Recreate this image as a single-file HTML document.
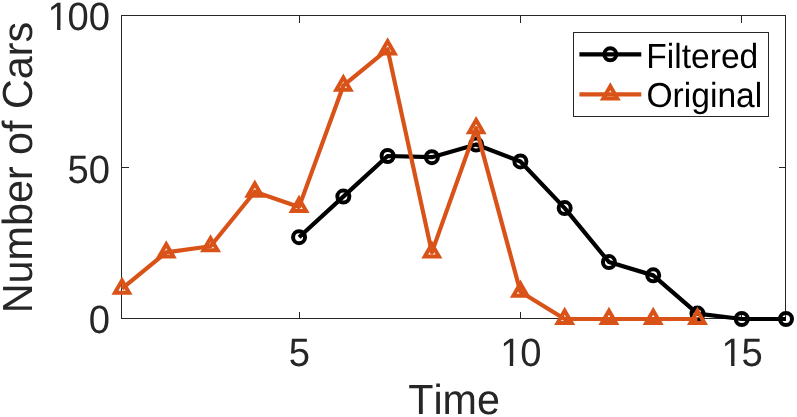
<!DOCTYPE html><html><head><meta charset="utf-8"><title>Plot</title><style>html,body{margin:0;padding:0;background:#fff}body{width:797px;height:417px;overflow:hidden}text{font-kerning:none;text-rendering:geometricPrecision}</style></head><body><svg width="797" height="417" viewBox="0 0 797 417" style="display:block">
<rect width="797" height="417" fill="#fff"/>
<g stroke="#262626" stroke-width="1" fill="none" shape-rendering="crispEdges"><rect x="121.5" y="15.5" width="664.0" height="303.0" fill="none"/></g>
<g fill="#262626" shape-rendering="crispEdges"><rect x="299" y="312" width="1" height="6"/><rect x="299" y="16" width="1" height="7"/><rect x="520" y="312" width="1" height="6"/><rect x="520" y="16" width="1" height="7"/><rect x="741" y="312" width="1" height="6"/><rect x="741" y="16" width="1" height="7"/><rect x="122" y="318" width="7" height="1"/><rect x="779" y="318" width="6" height="1"/><rect x="122" y="167" width="7" height="1"/><rect x="779" y="167" width="6" height="1"/><rect x="122" y="15" width="7" height="1"/><rect x="779" y="15" width="6" height="1"/></g>
<g font-family="'Liberation Sans', Arial, Helvetica, sans-serif" font-size="38.2" fill="#262626"><text transform="translate(288.74,366.10) scale(1,1.035)" x="0.00">5</text><text transform="translate(498.95,365.80) scale(1,1.035)" x="1.20 21.25">10</text><text transform="translate(720.29,365.80) scale(1,1.035)" x="1.20 21.25">15</text><text transform="translate(88.75,333.20) scale(1,1.035)" x="0.00">0</text><text transform="translate(67.51,182.50) scale(1,1.035)" x="0.00 21.25">50</text><text transform="translate(46.26,30.00) scale(1,1.035)" x="1.20 21.25 42.49">100</text></g>
<g fill="#fff"><rect x="502.06" y="362.25" width="7.70" height="4.55"/><rect x="513.14" y="362.25" width="7.40" height="4.55"/><rect x="723.40" y="362.25" width="7.70" height="4.55"/><rect x="734.47" y="362.25" width="7.40" height="4.55"/><rect x="49.37" y="26.45" width="7.70" height="4.55"/><rect x="60.45" y="26.45" width="7.40" height="4.55"/></g>
<g font-family="'Liberation Sans', Arial, Helvetica, sans-serif" font-size="41.3" fill="#262626"><text transform="translate(454.10,414.10) scale(1,1.02)" text-anchor="middle">Time</text><text transform="translate(32.00,167.50) rotate(-90) scale(1,1.02)" text-anchor="middle">Number of Cars</text></g>
<polyline points="299.07,237.19 343.33,196.59 387.60,155.99 431.87,157.20 476.13,144.47 520.40,161.44 564.67,208.10 608.93,262.04 653.20,275.37 697.47,313.55 741.73,319.00 786.00,319.00" fill="none" stroke="#000" stroke-width="4.2" stroke-linejoin="round" stroke-linecap="butt"/>
<circle cx="299.07" cy="237.19" r="6" fill="none" stroke="#000" stroke-width="4"/><circle cx="343.33" cy="196.59" r="6" fill="none" stroke="#000" stroke-width="4"/><circle cx="387.60" cy="155.99" r="6" fill="none" stroke="#000" stroke-width="4"/><circle cx="431.87" cy="157.20" r="6" fill="none" stroke="#000" stroke-width="4"/><circle cx="476.13" cy="144.47" r="6" fill="none" stroke="#000" stroke-width="4"/><circle cx="520.40" cy="161.44" r="6" fill="none" stroke="#000" stroke-width="4"/><circle cx="564.67" cy="208.10" r="6" fill="none" stroke="#000" stroke-width="4"/><circle cx="608.93" cy="262.04" r="6" fill="none" stroke="#000" stroke-width="4"/><circle cx="653.20" cy="275.37" r="6" fill="none" stroke="#000" stroke-width="4"/><circle cx="697.47" cy="313.55" r="6" fill="none" stroke="#000" stroke-width="4"/><circle cx="741.73" cy="319.00" r="6" fill="none" stroke="#000" stroke-width="4"/><circle cx="786.00" cy="319.00" r="6" fill="none" stroke="#000" stroke-width="4"/>
<polyline points="122.00,288.70 166.27,252.34 210.53,246.28 254.80,191.74 299.07,206.89 343.33,85.69 387.60,49.33 431.87,252.34 476.13,128.11 520.40,291.73 564.67,319.00 608.93,319.00 653.20,319.00 697.47,319.00" fill="none" stroke="#D95319" stroke-width="4.2" stroke-linejoin="round" stroke-linecap="butt"/>
<path d="M122.00 280.55 L129.06 292.77 L114.94 292.77 Z" fill="none" stroke="#D95319" stroke-width="4" stroke-linejoin="miter"/><path d="M166.27 244.19 L173.32 256.42 L159.21 256.42 Z" fill="none" stroke="#D95319" stroke-width="4" stroke-linejoin="miter"/><path d="M210.53 238.13 L217.59 250.35 L203.48 250.35 Z" fill="none" stroke="#D95319" stroke-width="4" stroke-linejoin="miter"/><path d="M254.80 183.59 L261.86 195.81 L247.74 195.81 Z" fill="none" stroke="#D95319" stroke-width="4" stroke-linejoin="miter"/><path d="M299.07 198.74 L306.12 210.96 L292.01 210.96 Z" fill="none" stroke="#D95319" stroke-width="4" stroke-linejoin="miter"/><path d="M343.33 77.54 L350.39 89.77 L336.28 89.77 Z" fill="none" stroke="#D95319" stroke-width="4" stroke-linejoin="miter"/><path d="M387.60 41.18 L394.66 53.41 L380.54 53.41 Z" fill="none" stroke="#D95319" stroke-width="4" stroke-linejoin="miter"/><path d="M431.87 244.19 L438.92 256.42 L424.81 256.42 Z" fill="none" stroke="#D95319" stroke-width="4" stroke-linejoin="miter"/><path d="M476.13 119.96 L483.19 132.19 L469.08 132.19 Z" fill="none" stroke="#D95319" stroke-width="4" stroke-linejoin="miter"/><path d="M520.40 283.58 L527.46 295.81 L513.34 295.81 Z" fill="none" stroke="#D95319" stroke-width="4" stroke-linejoin="miter"/><path d="M564.67 310.85 L571.72 323.07 L557.61 323.07 Z" fill="none" stroke="#D95319" stroke-width="4" stroke-linejoin="miter"/><path d="M608.93 310.85 L615.99 323.07 L601.88 323.07 Z" fill="none" stroke="#D95319" stroke-width="4" stroke-linejoin="miter"/><path d="M653.20 310.85 L660.26 323.07 L646.14 323.07 Z" fill="none" stroke="#D95319" stroke-width="4" stroke-linejoin="miter"/><path d="M697.47 310.85 L704.52 323.07 L690.41 323.07 Z" fill="none" stroke="#D95319" stroke-width="4" stroke-linejoin="miter"/>
<rect x="573.5" y="32.5" width="195.0" height="84.0" fill="#fff" stroke="#262626" stroke-width="1" shape-rendering="crispEdges"/>
<line x1="579.4" y1="54.4" x2="641.3" y2="54.4" stroke="#000" stroke-width="4.2"/><circle cx="610.30" cy="54.35" r="6" fill="none" stroke="#000" stroke-width="4"/>
<line x1="579.4" y1="94.45" x2="641.3" y2="94.45" stroke="#D95319" stroke-width="4.2"/><path d="M610.30 86.20 L617.36 98.42 L603.24 98.42 Z" fill="none" stroke="#D95319" stroke-width="4" stroke-linejoin="miter"/>
<g font-family="'Liberation Sans', Arial, Helvetica, sans-serif" font-size="33.6" fill="#000"><text transform="translate(646.30,68.00) scale(1,1.035)" text-anchor="start">Filtered</text><text transform="translate(646.50,107.00) scale(1,1.035)" text-anchor="start">Original</text></g>
</svg></body></html>
